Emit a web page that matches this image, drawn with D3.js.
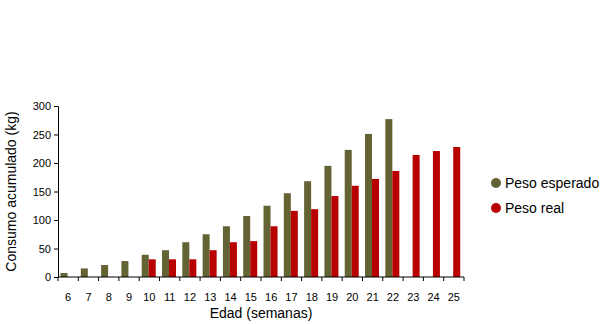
<!DOCTYPE html>
<html>
<head>
<meta charset="utf-8">
<script src="https://cdn.jsdelivr.net/npm/d3@7"></script>
<style>
  html, body { margin: 0; padding: 0; background: #fff; }
  svg { display: block; font-family: "Liberation Sans", Arial, sans-serif; }
</style>
</head>
<body>
<svg id="chart" width="610" height="324"></svg>
<script>
// Semanas de edad
const weeks = [6, 7, 8, 9, 10, 11, 12, 13, 14, 15, 16, 17, 18, 19, 20, 21, 22, 23, 24, 25];
// Consumo acumulado esperado (kg)
const pesoEsperado = [7, 15, 21, 28, 39, 47, 61, 75, 89, 107, 125, 147, 168, 195, 223, 251, 277, null, null, null];
// Consumo acumulado real (kg)
const pesoReal = [null, null, null, null, 31, 31, 31, 47, 61, 63, 89, 116, 119, 142, 160, 172, 186, 214, 221, 228];
const yTicks = [0, 50, 100, 150, 200, 250, 300];

const series = [
  { name: "Peso esperado", values: pesoEsperado, color: "#636334" },
  { name: "Peso real", values: pesoReal, color: "#B80000" }
];

const svg = d3.select("#chart");
const margin = { left: 58, right: 146, top: 106, bottom: 47 };
const W = 610, H = 324;

const x = d3.scaleBand().domain(weeks).range([margin.left, W - margin.right]).paddingInner(0).paddingOuter(0);
const inner = d3.scaleBand().domain(series.map(s => s.name)).range([0, x.bandwidth()])
  .paddingInner(0).paddingOuter(0.45).align(0.4);
const y = d3.scaleLinear().domain([0, 300]).range([H - margin.bottom, margin.top]);

// Barras
series.forEach(s => {
  svg.append("g")
    .selectAll("rect")
    .data(weeks.map((w, i) => ({ w, v: s.values[i] })).filter(d => d.v != null))
    .join("rect")
    .attr("x", d => x(d.w) + inner(s.name))
    .attr("y", d => y(d.v))
    .attr("width", inner.bandwidth())
    .attr("height", d => y(0) - y(d.v))
    .attr("fill", s.color);
});

// Eje Y
const yAxis = svg.append("g")
  .attr("transform", `translate(${margin.left},0)`)
  .call(d3.axisLeft(y).tickValues(yTicks).tickSize(4).tickPadding(3));
yAxis.select(".domain").attr("stroke", "#000");
yAxis.selectAll(".tick line").attr("stroke", "#000");
yAxis.selectAll("text").attr("font-size", 11).attr("fill", "#000").attr("font-family", "Liberation Sans, Arial, sans-serif");

// Eje X: marcas en los límites de cada categoría
const xAxis = svg.append("g").attr("transform", `translate(0,${y(0)})`);
xAxis.append("line")
  .attr("x1", margin.left).attr("x2", W - margin.right)
  .attr("stroke", "#000");
xAxis.selectAll("line.tk")
  .data(weeks.concat(["end"]))
  .join("line")
  .attr("class", "tk")
  .attr("x1", (d, i) => margin.left + i * x.bandwidth())
  .attr("x2", (d, i) => margin.left + i * x.bandwidth())
  .attr("y1", 0).attr("y2", 4)
  .attr("stroke", "#000");
xAxis.selectAll("text")
  .data(weeks)
  .join("text")
  .attr("x", d => x(d) + x.bandwidth() / 2)
  .attr("y", 24)
  .attr("text-anchor", "middle")
  .attr("font-size", 11)
  .attr("fill", "#000")
  .text(d => d);

// Títulos de ejes
svg.append("text")
  .attr("transform", `translate(16,${(margin.top + H - margin.bottom) / 2}) rotate(-90)`)
  .attr("text-anchor", "middle")
  .attr("font-size", 14)
  .attr("fill", "#000")
  .text("Consumo acumulado (kg)");

svg.append("text")
  .attr("x", (margin.left + W - margin.right) / 2)
  .attr("y", 318)
  .attr("text-anchor", "middle")
  .attr("font-size", 14)
  .attr("fill", "#000")
  .text("Edad (semanas)");

// Leyenda
const legend = svg.append("g").attr("transform", "translate(496,183)");
series.forEach((s, i) => {
  const g = legend.append("g").attr("transform", `translate(0,${i * 25})`);
  g.append("circle").attr("r", 5).attr("fill", s.color);
  g.append("text")
    .attr("x", 9).attr("y", 5)
    .attr("font-size", 14)
    .attr("fill", "#000")
    .text(s.name);
});
</script>
</body>
</html>
